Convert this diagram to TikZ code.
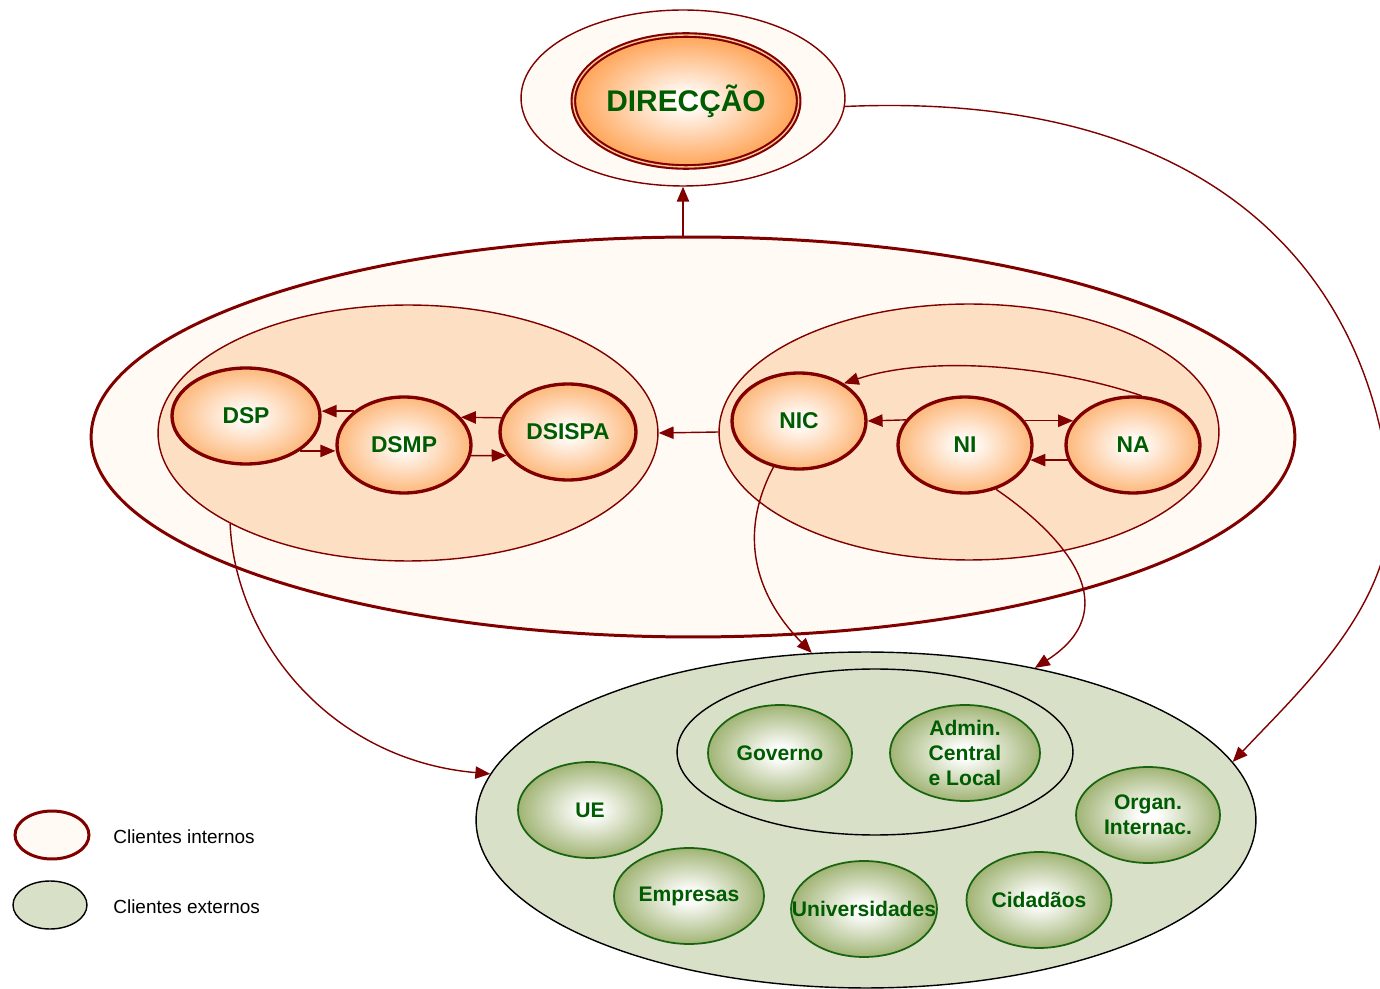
\documentclass[tikz,border=0pt]{standalone}
\usepackage{fontspec}
\setmainfont{Liberation Sans}
\usetikzlibrary{shapes.geometric,arrows.meta}

\definecolor{escuro}{RGB}{128,0,0}
\definecolor{creme}{RGB}{255,250,244}
\definecolor{pessego}{RGB}{253,224,196}
\definecolor{laranjaC}{RGB}{253,178,112}
\definecolor{laranjaF}{RGB}{255,156,72}
\definecolor{verdeT}{RGB}{0,92,0}
\definecolor{verdeB}{RGB}{26,100,16}
\definecolor{verdeP}{RGB}{216,224,200}
\definecolor{oliva}{RGB}{148,170,98}

\pgfdeclareradialshading{laranja}{\pgfpoint{0bp}{0bp}}{color(0bp)=(white); color(2bp)=(white); color(27bp)=(laranjaC); color(50bp)=(laranjaC)}
\pgfdeclareradialshading{laranjaforte}{\pgfpoint{0bp}{0bp}}{color(0bp)=(white); color(2bp)=(white); color(27bp)=(laranjaF); color(50bp)=(laranjaF)}
\pgfdeclareradialshading{verdoso}{\pgfpoint{0bp}{0bp}}{color(0bp)=(white); color(3bp)=(white); color(28bp)=(oliva); color(50bp)=(oliva)}

\begin{document}
\begin{tikzpicture}[x=0.02cm,y=-0.02cm,
	envolvente/.style={ellipse, draw=escuro, fill=creme, inner sep=0pt},
	grupo/.style={ellipse, draw=escuro, line width=0.8pt, fill=pessego, inner sep=0pt, minimum width=10cm, minimum height=5.12cm},
	unidade/.style={ellipse, draw=escuro, line width=1.9pt, shade, shading=laranja, text=verdeT, font=\fontsize{13}{15}\selectfont\bfseries, inner sep=0pt, minimum height=1.92cm},
	cliente/.style={ellipse, draw=verdeB, line width=1pt, shade, shading=verdoso, text=verdeT, font=\fontsize{12}{14.2}\selectfont\bfseries, align=center, inner sep=0pt, minimum height=1.92cm},
	legenda/.style={anchor=west, inner sep=0pt, font=\fontsize{10.8}{13}\selectfont},
	seta/.style={draw=escuro, line width=0.8pt, -{Triangle[length=8.5pt,width=7pt]}}]
	\useasboundingbox (0,0) rectangle (1380,989);

	% clientes internos
	\node[envolvente, line width=0.8pt, minimum width=6.48cm, minimum height=3.52cm] (dirout) at (683,98) {};
	\node[unidade, line width=1.2pt, double=laranjaF!60, double distance=0.8pt, shading=laranjaforte, minimum width=4.32cm, minimum height=2.64cm, font=\fontsize{17}{20}\selectfont\bfseries] (dir) at (686,101) {DIRECÇÃO};
	\node[envolvente, line width=1.7pt, minimum width=24.08cm, minimum height=8cm] (interno) at (693,437) {};
	\node[grupo] (grpS) at (408,433) {};
	\node[grupo] (grpN) at (969,432) {};
	\node[unidade, minimum width=2.96cm] (dsp) at (246,416) {DSP};
	\node[unidade, minimum width=2.68cm] (dsmp) at (404,445) {DSMP};
	\node[unidade, minimum width=2.72cm] (dsispa) at (568,432) {DSISPA};
	\node[unidade, minimum width=2.68cm] (nic) at (799,421) {NIC};
	\node[unidade, minimum width=2.68cm] (ni) at (965,445) {NI};
	\node[unidade, minimum width=2.68cm] (na) at (1133,445) {NA};

	% clientes externos
	\node[envolvente, draw=black, fill=verdeP, line width=0.8pt, minimum width=15.6cm, minimum height=6.72cm] (externo) at (866,820) {};
	\node[ellipse, draw=black, line width=0.8pt, minimum width=7.92cm, minimum height=3.32cm] (publico) at (875,752) {};
	\node[cliente, minimum width=2.88cm] (gov) at (780,753) {Governo};
	\node[cliente, minimum width=3cm] (admin) at (965,753) {Admin.\\Central\\e Local};
	\node[cliente, minimum width=2.88cm] (ue) at (590,810) {UE};
	\node[cliente, minimum width=2.88cm] (organ) at (1148,815) {Organ.\\Internac.};
	\node[cliente, minimum width=3cm] (empresas) at (689,896) {Empresas};
	\node[cliente, minimum width=2.92cm, inner xsep=-0.45cm] (univ) at (864,909) {Universidades};
	\node[cliente, minimum width=2.9cm] (cidadaos) at (1039,900) {Cidadãos};

	\draw[seta] (dsmp.146) -- (dsmp.146 -| dsp.east);
	\draw[seta] (dsp.-33) -- (dsp.-33 -| dsmp.west);
	\draw[seta] (dsispa.168) -- (dsmp.26);
	\draw[seta] (dsmp.-9) -- (dsispa.201);
	\draw[seta] (grpN.west) -- (grpS.east);
	\draw[seta] (ni.157) -- (nic.east);
	\draw[seta] (ni.22) -- (na.158);
	\draw[seta] (na.193) -- (ni.-13);
	\draw[seta] (na.80) .. controls (1050,365) and (930,355) .. (nic.40);
	\draw[seta] (dirout.south |- interno.north) -- (dirout.south);
	\draw[seta] (grpS.207) .. controls (235,640) and (330,760) .. (externo.173);
	\draw[seta] (nic.241) .. controls (735,540) and (760,600) .. (externo.108);
	\draw[seta] (ni.-55) .. controls (1070,540) and (1125,610) .. (externo.42);
	\draw[seta] (dirout.-3) .. controls (1220,90) and (1370,280) .. (1390,490) .. controls (1400,600) and (1300,690) .. (externo.9);

	% legenda
	\node[envolvente, line width=1.7pt, minimum width=1.48cm, minimum height=0.96cm] (legI) at (52,835) {};
	\node[legenda] (legItxt) at (113,837) {Clientes internos};
	\node[ellipse, draw=black, fill=verdeP, line width=0.8pt, minimum width=1.48cm, minimum height=0.96cm] (legE) at (50,905) {};
	\node[legenda] (legEtxt) at (113,907) {Clientes externos};
\end{tikzpicture}
\end{document}
